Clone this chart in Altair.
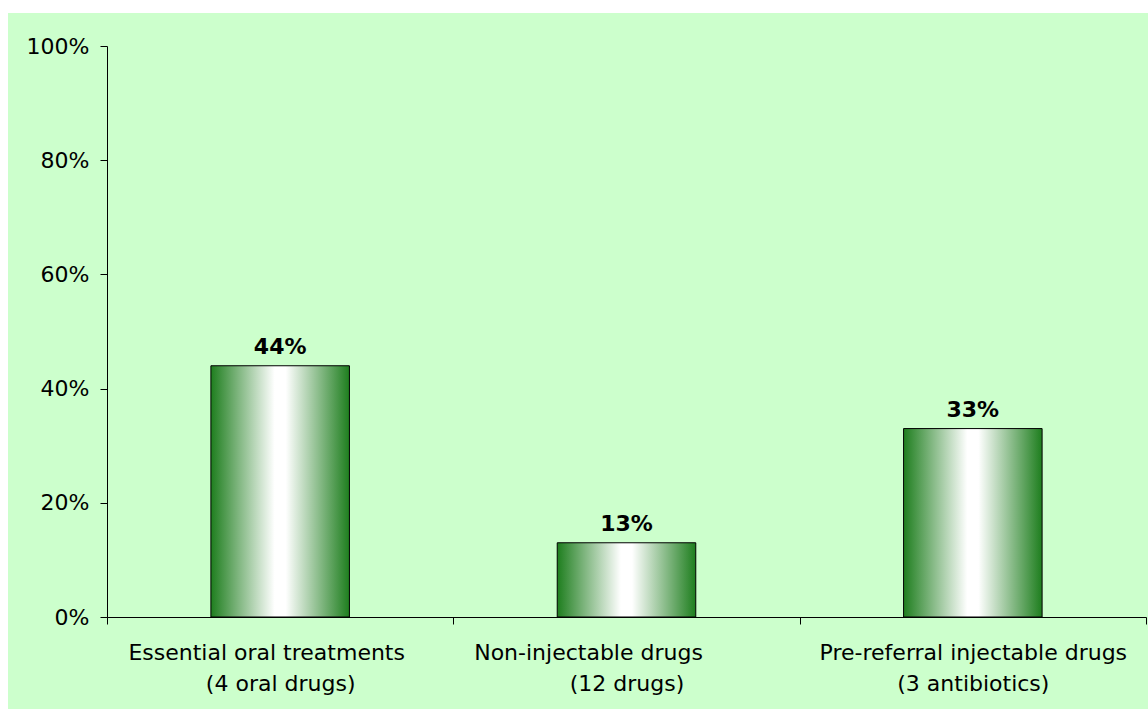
import altair as alt
import pandas as pd

# Category labels (two lines each). The first lines carry trailing
# no-break spaces, closed by a zero-width space so they are not trimmed,
# which shifts them left of the category centre.
categories = [
    "Essential oral treatments" + "\u00a0" * 4 + "\u200b\n(4 oral drugs)",
    "Non-injectable drugs" + "\u00a0" * 11 + "\u200b\n(12 drugs)",
    "Pre-referral injectable drugs\n(3 antibiotics)",
]
shares = [0.44, 0.13, 0.33]

df = pd.DataFrame({"category": categories, "share": shares})

FONT = "DejaVu Sans"
W, H = 1039, 571
LEFT, TOP = 107, 46

bar_fill = alt.Gradient(
    gradient="linear",
    x1=0, x2=1, y1=0, y2=0,
    stops=[
        alt.GradientStop(color="#1e7e1e", offset=0),
        alt.GradientStop(color="#ffffff", offset=0.46),
        alt.GradientStop(color="#ffffff", offset=0.54),
        alt.GradientStop(color="#1e7e1e", offset=1),
    ],
)

# light-green panel behind the plot and its axes
panel = alt.Chart(pd.DataFrame({"p": [0]})).mark_rect(color="#CCFFCC").encode(
    x=alt.value(8 - LEFT),
    x2=alt.value(1148 - LEFT),
    y=alt.value(13 - TOP),
    y2=alt.value(709 - TOP),
)

x_enc = alt.X(
    "category:N",
    sort=None,
    title=None,
    scale=alt.Scale(paddingInner=0, paddingOuter=0),
    axis=alt.Axis(
        labelAngle=0,
        labelExpr="split(datum.label, '\\n')",
        labelBaseline="top",
        labelLineHeight=31,
        labelPadding=18,
        labelLimit=0,
        tickBand="extent",
        tickSize=7,
        zindex=1,
    ),
)
y_enc = alt.Y(
    "share:Q",
    title=None,
    scale=alt.Scale(domain=[0, 1], nice=False),
    axis=alt.Axis(
        values=[0, 0.2, 0.4, 0.6, 0.8, 1.0],
        format=".0%",
        tickSize=7,
        labelPadding=11,
        grid=False,
        zindex=1,
    ),
)

bars = alt.Chart(df).mark_bar(
    width=alt.RelativeBandSize(0.4),
    fill=bar_fill,
    stroke="black",
    strokeWidth=1,
).encode(x=x_enc, y=y_enc)

labels = alt.Chart(df).mark_text(
    font=FONT,
    fontSize=22,
    fontWeight="bold",
    color="black",
    baseline="alphabetic",
    dy=-12,
).encode(
    x=alt.X("category:N", sort=None),
    y=alt.Y("share:Q"),
    text=alt.Text("share:Q", format=".0%"),
)

chart = (
    alt.layer(panel, bars, labels)
    .properties(
        width=W,
        height=H,
        autosize=alt.AutoSizeParams(type="none"),
        padding={"left": LEFT, "top": TOP, "right": 1148 - LEFT - W, "bottom": 709 - TOP - H},
        background="white",
    )
    .configure_view(stroke=None)
    .configure_axis(
        labelFont=FONT,
        labelFontSize=22,
        labelColor="black",
        domainColor="black",
        tickColor="black",
        domainWidth=1,
        tickWidth=1,
    )
)

chart.save("out.html", embed_options={"renderer": "svg", "actions": False})
